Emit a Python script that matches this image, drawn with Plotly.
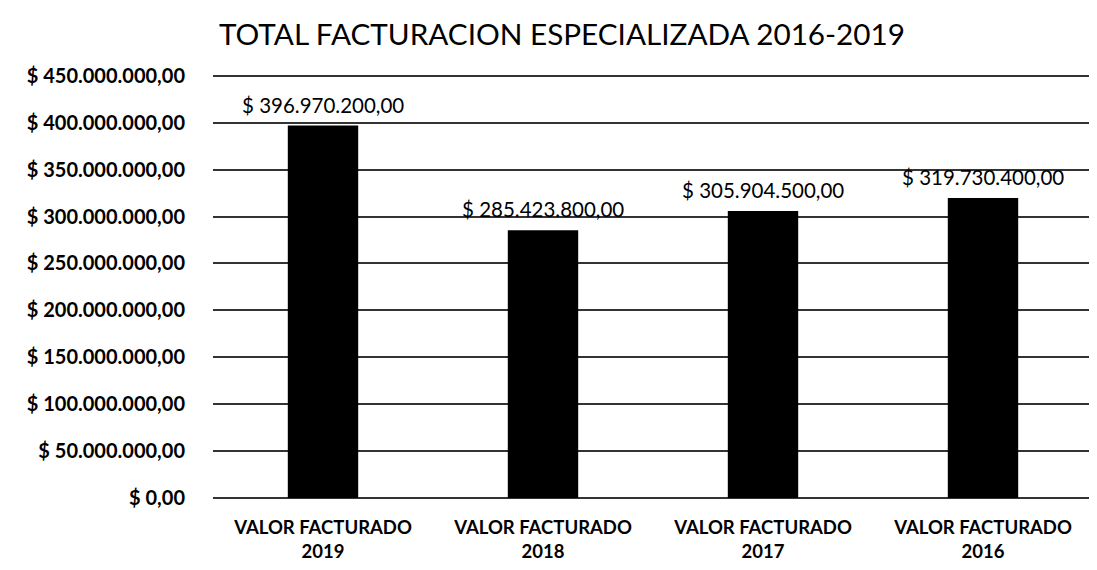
import plotly.graph_objects as go

categories = ["VALOR FACTURADO<br>2019", "VALOR FACTURADO<br>2018",
              "VALOR FACTURADO<br>2017", "VALOR FACTURADO<br>2016"]
values = [396970200.00, 285423800.00, 305904500.00, 319730400.00]
tick_vals = [0, 50e6, 100e6, 150e6, 200e6, 250e6, 300e6, 350e6, 400e6, 450e6]


def fmt(v):
    s = f"{v:,.2f}"
    return "$ " + s.replace(",", "X").replace(".", ",").replace("X", ".")


tick_text = [fmt(v) for v in tick_vals]
label_text = [fmt(v) for v in values]

FONT = "Lato, 'Open Sans', sans-serif"

fig = go.Figure(go.Bar(
    x=categories, y=values,
    marker=dict(color="black", line=dict(width=0)),
    hoverinfo="skip",
))

for c, v, t in zip(categories, values, label_text):
    fig.add_annotation(x=c, y=v, text=t, showarrow=False,
                       yanchor="bottom", yshift=7,
                       font=dict(family=FONT, size=20.5, color="black"))

fig.update_layout(
    width=1097, height=570,
    paper_bgcolor="white", plot_bgcolor="white",
    margin=dict(l=205, r=12, t=65, b=80),
    bargap=0.68,
    showlegend=False,
    title=dict(text="TOTAL FACTURACION ESPECIALIZADA 2016-2019",
               x=0.505, xanchor="center", y=0.953, yanchor="middle",
               font=dict(family=FONT, size=29.7, color="black")),
    font=dict(family=FONT, color="black"),
)
fig.update_yaxes(range=[0, 453e6], tickvals=tick_vals, ticktext=tick_text,
                 showgrid=True, gridcolor="#333", gridwidth=1.5,
                 zeroline=True, zerolinecolor="#333", zerolinewidth=1.5,
                 ticks="", ticklabelstandoff=27,
                 tickfont=dict(family=FONT, size=20, color="black", weight="bold"))
fig.update_xaxes(showline=False, ticks="", ticklabelstandoff=16,
                 tickfont=dict(family=FONT, size=18.5, color="black", weight="bold"))

fig.write_html("out.html")
